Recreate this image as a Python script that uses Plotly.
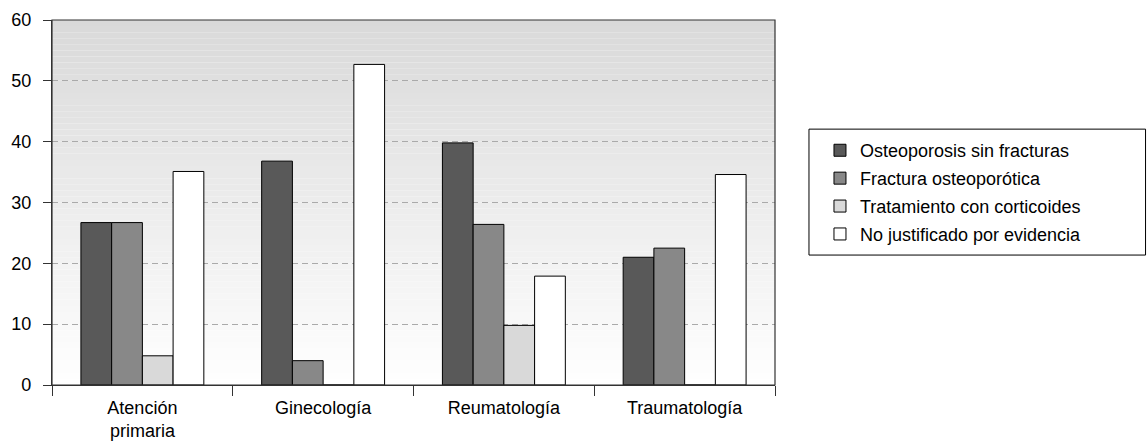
import plotly.graph_objects as go

categories = ["Atención<br>primaria", "Ginecología", "Reumatología", "Traumatología"]
series_names = [
    "Osteoporosis sin fracturas",
    "Fractura osteoporótica",
    "Tratamiento con corticoides",
    "No justificado por evidencia",
]
osteoporosis_sin_fracturas = [26.7, 36.8, 39.8, 21.0]
fractura_osteoporotica = [26.7, 4.0, 26.4, 22.5]
tratamiento_corticoides = [4.8, 0.0, 9.8, 0.0]
no_justificado = [35.1, 52.7, 17.9, 34.6]
y_ticks = [0, 10, 20, 30, 40, 50, 60]

series_values = [osteoporosis_sin_fracturas, fractura_osteoporotica,
                 tratamiento_corticoides, no_justificado]
colors = ["#595959", "#888888", "#d9d9d9", "#ffffff"]

FONT = "Liberation Sans, Arial, sans-serif"

fig = go.Figure()
for i, (name, vals, col) in enumerate(zip(series_names, series_values, colors)):
    fig.add_trace(go.Bar(
        x=categories, y=vals, name=name,
        marker=dict(color=col, line=dict(color="#000000", width=1)),
        legendgroup=f"g{i}",
    ))

# vertical gradient background of plot area (grey at top to white at bottom)
n = 60
shapes = []
for k in range(n):
    t = k / n
    g = int(round(217 + (255 - 217) * (1 - t - 0.5 / n)))
    g = max(217, min(255, g))
    shapes.append(dict(
        type="rect", xref="paper", yref="paper",
        x0=0, x1=1, y0=t, y1=(k + 1) / n,
        fillcolor=f"rgb({g},{g},{g})", line=dict(width=0), layer="below",
    ))
# plot-area frame
shapes.append(dict(type="rect", xref="paper", yref="paper", x0=0, x1=1, y0=0, y1=1,
                   line=dict(color="#333333", width=1.2), layer="above"))
# legend frame
shapes.append(dict(type="rect", xref="paper", yref="paper",
                   x0=1.047, x1=1.5125, y0=0.356, y1=0.701,
                   line=dict(color="#000000", width=1), layer="above"))

fig.update_layout(
    width=1147, height=445,
    margin=dict(l=52, r=372, t=20, b=60, autoexpand=False),
    paper_bgcolor="white",
    plot_bgcolor="rgba(0,0,0,0)",
    barmode="group",
    bargap=0.32,
    bargroupgap=0,
    font=dict(family=FONT, size=18, color="#000000"),
    shapes=shapes,
    showlegend=True,
    legend=dict(
        x=1.0622, y=0.693, xanchor="left", yanchor="top",
        bgcolor="rgba(0,0,0,0)", borderwidth=0,
        font=dict(family=FONT, size=18, color="#000000"),
        traceorder="grouped", tracegroupgap=1.5,
    ),
)
fig.update_xaxes(
    showline=True, linecolor="#333333", linewidth=1.2,
    ticks="outside", tickson="boundaries", ticklen=10, tickcolor="#333333",
    ticklabelstandoff=6,
    showgrid=False, tickfont=dict(family=FONT, size=18), automargin=False,
)
fig.update_yaxes(
    range=[0, 60], tickvals=y_ticks,
    showline=True, linecolor="#333333", linewidth=1.2,
    ticks="outside", ticklen=8, tickcolor="#333333",
    ticklabelstandoff=8,
    showgrid=True, gridcolor="#aaaaaa", griddash="6px,4px", gridwidth=1,
    zeroline=False, tickfont=dict(family=FONT, size=18), automargin=False,
)

fig.write_html(
    "out.html",
    config={"displayModeBar": False},
    post_script="document.body.style.margin='0';document.body.style.overflow='hidden';",
)
